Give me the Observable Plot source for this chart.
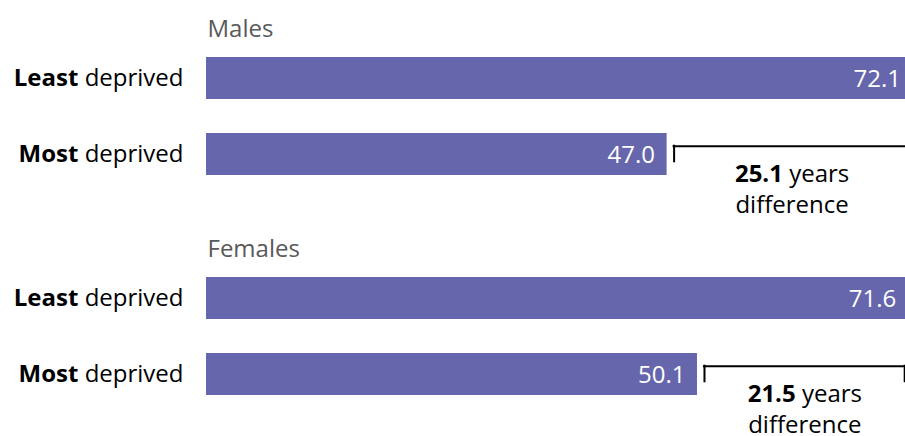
<!DOCTYPE html>
<html>
<head>
<meta charset="utf-8">
<script src="https://cdn.jsdelivr.net/npm/d3@7"></script>
<script src="https://cdn.jsdelivr.net/npm/@observablehq/plot@0.6"></script>
<style>
  html, body { margin: 0; padding: 0; overflow: hidden; background: #fff; }
  #chart { width: 905px; height: 436px; overflow: hidden; }
</style>
</head>
<body>
<div id="chart"></div>
<script>
const sexes = ["Males", "Females"];
const groups = ["Least", "Most"];
const maleValues = [72.1, 47.0];
const femaleValues = [71.6, 50.1];
const differences = [25.1, 21.5];

const valuesBySex = [maleValues, femaleValues];
const rows = sexes.flatMap((sex, i) => groups.map((group, j) => ({
  sex,
  group,
  value: valuesBySex[i][j],
  least: valuesBySex[i][0],
  most: valuesBySex[i][1],
  diff: differences[i]
})));

const isMost = d => d.group === "Most";
const FONT = "'Open Sans', 'Noto Sans', sans-serif";

const svg = Plot.plot({
  width: 905,
  height: 436,
  marginLeft: 206,
  marginRight: 0,
  marginTop: 0,
  marginBottom: 0,
  style: {fontFamily: FONT, fontSize: "24px", background: "white"},
  x: {domain: [0, 699 / 9.8], axis: null},
  y: {domain: groups, range: [57, 175], paddingInner: 34 / 76, paddingOuter: 0, axis: null},
  fy: {domain: sexes, paddingInner: 2 - 436 / 220, paddingOuter: 0, axis: null},
  facet: {data: rows, y: "sex"},
  marks: [
    Plot.barX(rows, {x: "value", y: "group", fill: "#6666ad"}),
    Plot.text(rows, {
      x: "value", y: "group", text: d => d.value.toFixed(1),
      textAnchor: "end", dx: -12, dy: 1, fill: "white", fontSize: 24
    }),
    Plot.text(rows, {
      frameAnchor: "left", y: "group", text: d => d.group + " deprived",
      textAnchor: "end", dx: -23, fill: "black", fontSize: 24
    }),
    Plot.text(rows, {
      filter: d => d.group === "Least", frameAnchor: "left", y: "group", text: "sex",
      textAnchor: "start", dx: 1, dy: -49, fill: "#595959", fontSize: 24
    }),
    Plot.ruleY(rows, {
      filter: isMost, x1: "value", x2: "least", y: "group",
      dy: -8.3, insetLeft: 6, insetRight: 2.5, stroke: "black", strokeWidth: 2
    }),
    Plot.tickX(rows, {
      filter: isMost, x: "value", y: "group",
      dx: 7, insetTop: 11.7, insetBottom: 12.7, stroke: "black", strokeWidth: 2
    }),
    Plot.tickX(rows, {
      filter: isMost, x: "least", y: "group",
      dx: -3.5, insetTop: 11.7, insetBottom: 12.7, stroke: "black", strokeWidth: 2
    }),
    Plot.text(rows, {
      filter: isMost, x: d => (d.value + d.least) / 2, y: "group",
      text: d => `${d.diff.toFixed(1)} years\ndifference`,
      lineAnchor: "top", lineHeight: 1.3, dx: 2, dy: 5.5, fill: "black", fontSize: 24
    })
  ]
});

// Mixed-weight text: bold first word
d3.select(svg).selectAll("text").each(function () {
  const el = this;
  const tspans = el.querySelectorAll("tspan");
  if (tspans.length === 0) {
    const m = /^(Least|Most)( deprived)$/.exec(el.textContent);
    if (m) {
      el.textContent = "";
      d3.select(el).append("tspan").attr("font-weight", "bold").text(m[1]);
      d3.select(el).append("tspan").text(m[2]);
    }
  } else {
    const first = tspans[0];
    const m = /^([\d.]+)( years)$/.exec(first.textContent);
    if (m) {
      first.textContent = "";
      d3.select(first).append("tspan").attr("font-weight", "bold").text(m[1]);
      d3.select(first).append("tspan").text(m[2]);
    }
  }
});

document.getElementById("chart").appendChild(svg);
</script>
</body>
</html>
